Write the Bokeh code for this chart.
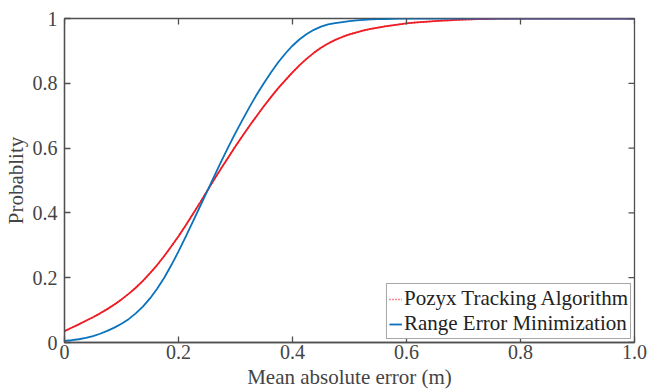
import math
from bokeh.plotting import figure
from bokeh.models import Legend, LegendItem, FixedTicker, Range1d, ColumnDataSource
from bokeh.embed import file_html
from bokeh.resources import INLINE

# ---- data ----
error_m = [0.0000, 0.0125, 0.0250, 0.0375, 0.0500, 0.0625, 0.0750, 0.0875, 0.1000, 0.1125,
           0.1250, 0.1375, 0.1500, 0.1625, 0.1750, 0.1875, 0.2000, 0.2125, 0.2250, 0.2375,
           0.2500, 0.2625, 0.2750, 0.2875, 0.3000, 0.3125, 0.3250, 0.3375, 0.3500, 0.3625,
           0.3750, 0.3875, 0.4000, 0.4125, 0.4250, 0.4375, 0.4500, 0.4625, 0.4750, 0.4875,
           0.5000, 0.5125, 0.5250, 0.5375, 0.5500, 0.5625, 0.5750, 0.5875, 0.6000, 0.6125,
           0.6250, 0.6375, 0.6500, 0.6625, 0.6750, 0.6875, 0.7000, 0.7125, 0.7250, 0.7375,
           0.7500, 0.7625, 0.7750, 0.7875, 0.8000, 0.9000, 1.0000]
pozyx_prob = [0.035, 0.0455, 0.056, 0.067, 0.078, 0.090, 0.103, 0.117, 0.133, 0.150,
              0.169, 0.190, 0.214, 0.239, 0.267, 0.297, 0.328, 0.361, 0.396, 0.431,
              0.467, 0.503, 0.538, 0.572, 0.606, 0.638, 0.670, 0.700, 0.730, 0.758,
              0.785, 0.810, 0.834, 0.856, 0.876, 0.894, 0.910, 0.923, 0.934, 0.943,
              0.951, 0.957, 0.963, 0.968, 0.972, 0.976, 0.979, 0.982, 0.985, 0.987,
              0.989, 0.9905, 0.992, 0.9933, 0.9945, 0.9955, 0.9965, 0.9973, 0.998, 0.9985,
              0.999, 0.9994, 0.9997, 0.9999, 1.000, 1.000, 1.000]
rem_prob = [0.005, 0.007, 0.010, 0.014, 0.020, 0.027, 0.036, 0.046, 0.058, 0.072,
            0.090, 0.111, 0.136, 0.166, 0.200, 0.239, 0.281, 0.326, 0.372, 0.419,
            0.466, 0.513, 0.559, 0.604, 0.647, 0.688, 0.728, 0.766, 0.801, 0.834,
            0.865, 0.892, 0.916, 0.936, 0.952, 0.965, 0.975, 0.982, 0.986, 0.989,
            0.992, 0.994, 0.996, 0.997, 0.998, 0.9985, 0.999, 0.9995, 1.000, 1.000,
            1.000, 1.000, 1.000, 1.000, 1.000, 1.000, 1.000, 1.000, 1.000, 1.000,
            1.000, 1.000, 1.000, 1.000, 1.000, 1.000, 1.000]
series_names = ["Pozyx Tracking Algorithm", "Range Error Minimization"]
x_ticks = [0, 0.2, 0.4, 0.6, 0.8, 1.0]
x_tick_labels = ["0", "0.2", "0.4", "0.6", "0.8", "1.0"]
y_ticks = [0, 0.2, 0.4, 0.6, 0.8, 1.0]
y_tick_labels = ["0", "0.2", "0.4", "0.6", "0.8", "1"]

RED = "#f01c24"
BLUE = "#0a72bd"
AX = "#4f4f4f"
TXT = "#444444"
FONT = "Liberation Serif"
TICK_FS = "20px"
LABEL_FS = "21px"

X_MIN, X_MAX = 0, 1
Y_MIN, Y_MAX = 0, 1

src = ColumnDataSource(dict(x=error_m, pozyx=pozyx_prob, rem=rem_prob))

p = figure(width=650, height=391, output_backend="svg", toolbar_location=None,
           x_range=Range1d(X_MIN, X_MAX), y_range=Range1d(Y_MIN, Y_MAX),
           min_border_left=63, min_border_right=16, min_border_top=18, min_border_bottom=48,
           x_axis_label="Mean absolute error (m)", y_axis_label="Probablity")
p.background_fill_color = "white"
p.border_fill_color = "white"
p.outline_line_color = AX
p.outline_line_width = 1.3
p.grid.visible = False

# dotted red drawn underneath the solid one; it gives the legend its dotted sample
proxy = p.line("x", "pozyx", source=src, line_color=RED, line_width=1.6, line_dash="1 2")
r_red = p.line("x", "pozyx", source=src, line_color=RED, line_width=1.8)
r_blue = p.line("x", "rem", source=src, line_color=BLUE, line_width=1.8)

# mirrored inward tick marks on the top and right edges (clipped to the frame)
p.scatter(x=x_ticks, y=[Y_MAX] * len(x_ticks), marker="dash", size=12,
          angle=math.pi / 2, line_color=AX, line_width=1.3)
p.scatter(x=[X_MAX] * len(y_ticks), y=y_ticks, marker="dash", size=12,
          line_color=AX, line_width=1.3)

xt = FixedTicker(ticks=x_ticks)
yt = FixedTicker(ticks=y_ticks)

def style(ax, ticker, labels):
    ax.ticker = ticker
    ax.axis_line_color = AX
    ax.axis_line_width = 1.3
    ax.major_tick_line_color = AX
    ax.major_tick_line_width = 1.3
    ax.major_tick_in = 6
    ax.major_tick_out = 0
    ax.minor_tick_line_color = None
    ax.major_label_overrides = {t: l for t, l in zip(ticker.ticks, labels)}
    ax.major_label_text_font = FONT
    ax.major_label_text_font_size = TICK_FS
    ax.major_label_text_color = TXT
    ax.axis_label_text_font = FONT
    ax.axis_label_text_font_size = LABEL_FS
    ax.axis_label_text_font_style = "normal"
    ax.axis_label_text_color = TXT

style(p.xaxis[0], xt, x_tick_labels)
style(p.yaxis[0], yt, y_tick_labels)
p.xaxis[0].major_label_standoff = 2
p.xaxis[0].axis_label_standoff = 3
p.yaxis[0].major_label_standoff = 7
p.yaxis[0].axis_label_standoff = 2

legend = Legend(items=[LegendItem(label=series_names[0], renderers=[proxy]),
                       LegendItem(label=series_names[1], renderers=[r_blue])],
                location="bottom_right")
legend.label_text_font = FONT
legend.label_text_font_size = LABEL_FS
legend.label_text_color = "#222222"
legend.label_standoff = 2
legend.label_height = 20
legend.glyph_width = 13
legend.glyph_height = 20
legend.spacing = 0
legend.padding = 2
legend.margin = 3
legend.border_line_color = AX
legend.border_line_width = 1.3
legend.background_fill_color = "white"
legend.background_fill_alpha = 1
p.add_layout(legend, "center")

open("out.html", "w").write(file_html(p, INLINE))
